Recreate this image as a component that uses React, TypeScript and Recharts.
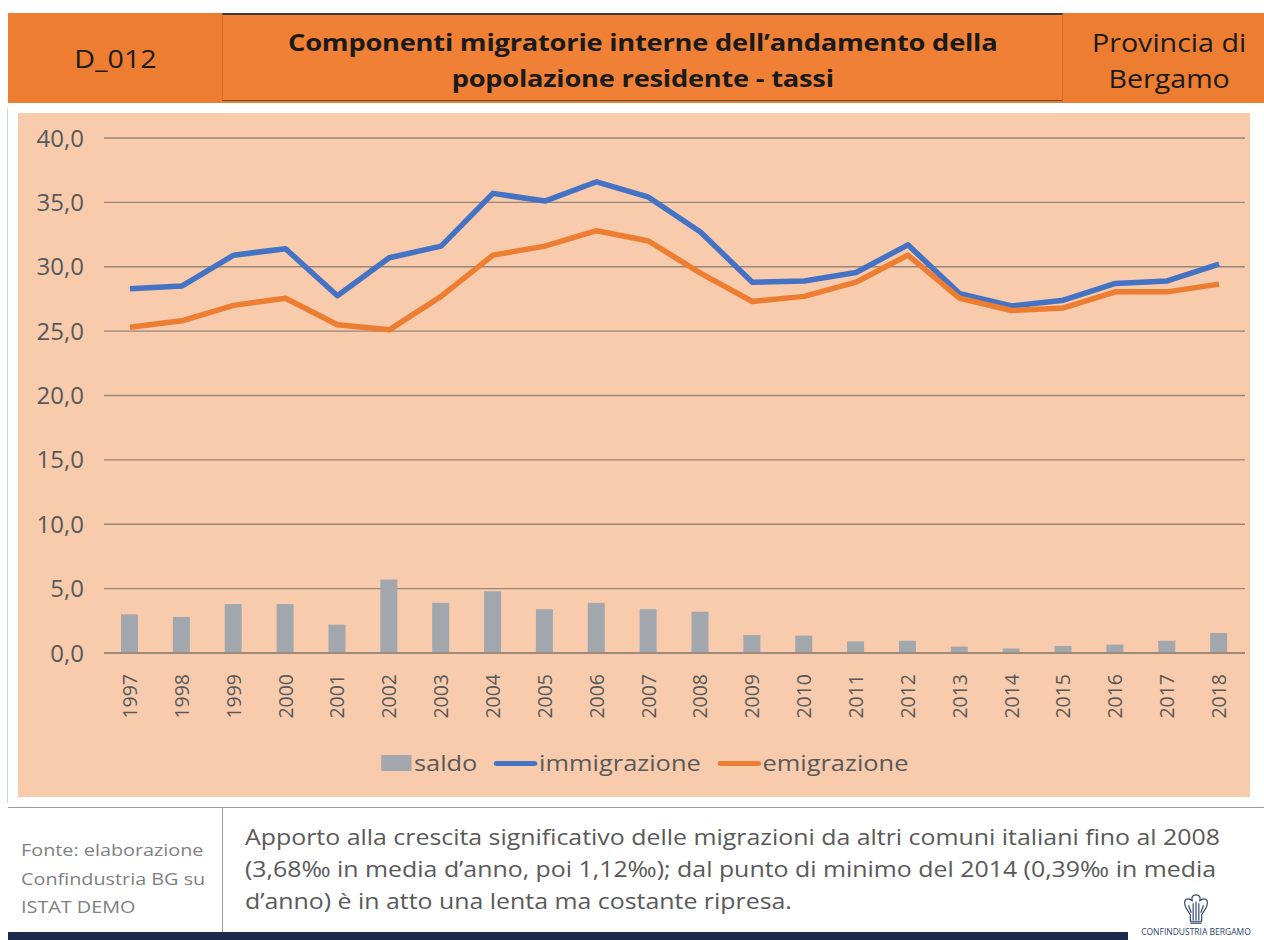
import React from 'react';
import { ComposedChart, Bar, Line, XAxis, YAxis, CartesianGrid, Legend } from 'recharts';

const years = ['1997','1998','1999','2000','2001','2002','2003','2004','2005','2006','2007','2008','2009','2010','2011','2012','2013','2014','2015','2016','2017','2018'];
const saldo = [3.0, 2.8, 3.8, 3.8, 2.2, 5.7, 3.9, 4.8, 3.4, 3.9, 3.4, 3.2, 1.4, 1.35, 0.9, 0.95, 0.5, 0.35, 0.55, 0.65, 0.95, 1.55];
const immigrazione = [28.3, 28.5, 30.9, 31.4, 27.75, 30.7, 31.6, 35.7, 35.1, 36.6, 35.4, 32.7, 28.8, 28.9, 29.55, 31.7, 27.9, 26.95, 27.4, 28.7, 28.9, 30.2];
const emigrazione = [25.3, 25.8, 27.0, 27.55, 25.5, 25.1, 27.7, 30.9, 31.6, 32.8, 32.0, 29.5, 27.3, 27.7, 28.8, 30.9, 27.55, 26.6, 26.8, 28.05, 28.05, 28.65];
const yTicks = [0, 5, 10, 15, 20, 25, 30, 35, 40];

const data = years.map((y, i) => ({ year: y, saldo: saldo[i], immigrazione: immigrazione[i], emigrazione: emigrazione[i] }));

const FONT = '"Open Sans", "Noto Sans", sans-serif';
const GRAY = '#595959';

const fmt = (v: number) => v.toFixed(1).replace('.', ',');

const XTick = (props: any) => {
  const { x, y, payload } = props;
  return (
    <text x={x} y={y} transform={`rotate(-90 ${x} ${y})`} dx={-13} dy={7} textAnchor="end" fill={GRAY} fontSize={19.5} fontFamily={FONT}>
      {payload.value}
    </text>
  );
};

const LegendContent = () => (
  <div style={{ display: 'flex', justifyContent: 'center', height: 30 }}>
    <div style={{ display: 'flex', alignItems: 'center', fontFamily: FONT, fontSize: 21, color: GRAY, height: 30, transform: 'scaleX(1.21)', transformOrigin: 'center', marginLeft: 26 }}>
      <span style={{ display: 'inline-block', width: 25, height: 16, background: '#A3A8AE', marginRight: 2 }} />
      <span style={{ marginRight: 14 }}>saldo</span>
      <span style={{ display: 'inline-block', width: 36, height: 5, borderRadius: 3, background: '#4472C4', marginRight: 1 }} />
      <span style={{ marginRight: 14 }}>immigrazione</span>
      <span style={{ display: 'inline-block', width: 36, height: 5, borderRadius: 3, background: '#ED7D31', marginRight: 1 }} />
      <span>emigrazione</span>
    </div>
  </div>
);

const Logo = () => (
  <div style={{ position: 'absolute', left: 1128, top: 890, width: 136, height: 50, background: '#fff', textAlign: 'center' }}>
    <svg width="30" height="34" viewBox="0 0 30 36" style={{ display: 'block', margin: '2px auto 0' }}>
      <g fill="none" stroke="#2b3f6b" strokeWidth="1.2">
        <path d="M15 3 C11 3 10 6 11 9 C7 6 3 7 3 11 C3 17 7 20 9 24 L9 31 L21 31 L21 24 C23 20 27 17 27 11 C27 7 23 6 19 9 C20 6 19 3 15 3 Z" />
        <path d="M12 12 L12 30 M15 10 L15 30 M18 12 L18 30 M7 14 L10 22 M23 14 L20 22 M9 33 L21 33" />
      </g>
    </svg>
    <div style={{ fontFamily: FONT, fontSize: 8.5, lineHeight: '11px', color: '#2b3f6b', whiteSpace: 'nowrap' }}>CONFINDUSTRIA BERGAMO</div>
  </div>
);

const Stretch = ({ k, origin = 'center', children }: any) => (
  <div style={{ display: 'inline-block', transform: `scaleX(${k})`, transformOrigin: origin, whiteSpace: 'nowrap' }}>{children}</div>
);

export default function App() {
  return (
    <div style={{ position: 'absolute', left: 0, top: 0, width: 1264, height: 940, background: '#fff', overflow: 'hidden', fontFamily: FONT }}>
      {/* Header */}
      <div style={{ position: 'absolute', left: 8, top: 13, width: 1256, height: 90, background: '#ED7D31' }} />
      <div style={{ position: 'absolute', left: 8, top: 13, width: 214, height: 90, display: 'flex', alignItems: 'center', justifyContent: 'center', fontSize: 26, color: '#1a1a1a' }}>
        <Stretch k={1.1}>D_012</Stretch>
      </div>
      <div style={{ position: 'absolute', left: 222, top: 13, width: 841, height: 88, borderTop: '2px solid #3a3a3a', borderBottom: '1px solid #6b4a33', borderLeft: '1px solid #d8701f', borderRight: '1px solid #d8701f', background: '#EF8035', display: 'flex', flexDirection: 'column', alignItems: 'center', justifyContent: 'center', fontSize: 23.5, fontWeight: 700, color: '#1a1a1a', lineHeight: '36px', letterSpacing: -0.2, paddingTop: 4, boxSizing: 'border-box' }}>
        <Stretch k={1.16}>Componenti migratorie interne dell’andamento della</Stretch>
        <Stretch k={1.16}>popolazione residente - tassi</Stretch>
      </div>
      <div style={{ position: 'absolute', left: 1069, top: 13, width: 201, height: 90, display: 'flex', flexDirection: 'column', alignItems: 'center', justifyContent: 'center', fontSize: 26, color: '#1a1a1a', lineHeight: '36px', paddingTop: 4, boxSizing: 'border-box' }}>
        <Stretch k={1.1}>Provincia di</Stretch>
        <Stretch k={1.1}>Bergamo</Stretch>
      </div>

      {/* Left thin border */}
      <div style={{ position: 'absolute', left: 7, top: 108, width: 1, height: 695, background: '#c9d6e3' }} />

      {/* Chart panel */}
      <div style={{ position: 'absolute', left: 18, top: 113, width: 1232, height: 684, background: '#F8CBAD' }}>
        <ComposedChart width={1232} height={684} data={data} margin={{ top: 25, right: 5, left: 0, bottom: 19 }} barCategoryGap={0}>
          <CartesianGrid vertical={false} stroke="#998679" strokeWidth={1.3} />
          <XAxis dataKey="year" tick={<XTick />} tickLine={false} axisLine={{ stroke: '#998679', strokeWidth: 1.3 }} height={95} interval={0} />
          <YAxis domain={[0, 40]} ticks={yTicks} tickFormatter={fmt} tick={{ fill: GRAY, fontSize: 24, fontFamily: FONT }} tickLine={false} axisLine={false} width={86} tickMargin={14} />
          <Legend verticalAlign="bottom" content={<LegendContent />} />
          <Bar dataKey="saldo" fill="#A1A7AD" barSize={17} isAnimationActive={false} />
          <Line dataKey="immigrazione" stroke="#4472C4" strokeWidth={5.5} dot={false} isAnimationActive={false} strokeLinejoin="round" />
          <Line dataKey="emigrazione" stroke="#ED7D31" strokeWidth={5.5} dot={false} isAnimationActive={false} strokeLinejoin="round" />
        </ComposedChart>
      </div>

      {/* Footer */}
      <div style={{ position: 'absolute', left: 8, top: 807, width: 1256, height: 1, background: '#9a9a9a' }} />
      <div style={{ position: 'absolute', left: 222, top: 807, width: 1, height: 133, background: '#9a9a9a' }} />
      <div style={{ position: 'absolute', left: 21, top: 836, width: 200, fontSize: 16.5, color: '#7f7f7f', lineHeight: '28.5px', whiteSpace: 'nowrap' }}>
        <div><Stretch k={1.2} origin="left">Fonte: elaborazione</Stretch></div>
        <div><Stretch k={1.2} origin="left">Confindustria BG su</Stretch></div>
        <div><Stretch k={1.2} origin="left">ISTAT DEMO</Stretch></div>
      </div>
      <div style={{ position: 'absolute', left: 245, top: 821, width: 1015, fontSize: 21, color: GRAY, lineHeight: '32px', whiteSpace: 'nowrap' }}>
        <div><Stretch k={1.185} origin="left">Apporto alla crescita significativo delle migrazioni da altri comuni italiani fino al 2008</Stretch></div>
        <div><Stretch k={1.185} origin="left">(3,68‰ in media d’anno, poi 1,12‰); dal punto di minimo del 2014 (0,39‰ in media</Stretch></div>
        <div><Stretch k={1.185} origin="left">d’anno) è in atto una lenta ma costante ripresa.</Stretch></div>
      </div>
      <div style={{ position: 'absolute', left: 8, top: 932, width: 1256, height: 8, background: '#1e2b4d' }} />
      <Logo />
    </div>
  );
}
